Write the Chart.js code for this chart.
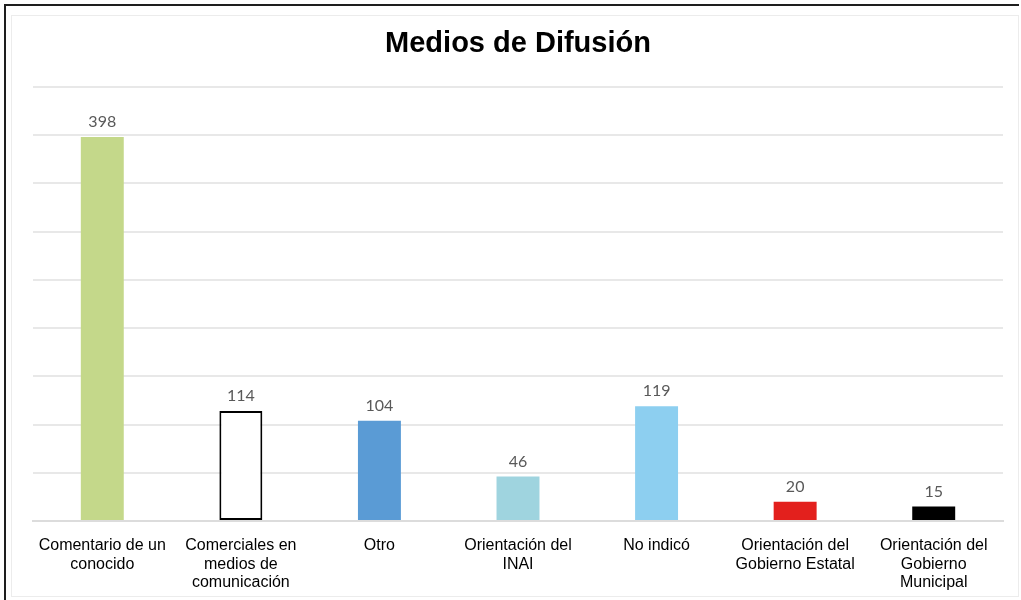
<!DOCTYPE html>
<html lang="es">
<head>
    <meta charset="UTF-8">
    <title>Medios de Difusión</title>
    <script src="https://cdn.jsdelivr.net/npm/chart.js"></script>
    <style>
        body {
            margin: 0;
            background: #fff;
            font-family: "Liberation Sans", Arial, sans-serif;
        }
        #wrap {
            position: relative;
            width: 1021px;
            height: 600px;
            overflow: hidden;
        }
        /* marco oscuro exterior */
        #frameDark {
            position: absolute;
            left: 4px;
            top: 4px;
            width: 1013px;
            height: 600px;
            border-top: 2px solid #1e1e1e;
            border-left: 2px solid #1e1e1e;
        }
        /* marco claro interior */
        #frameLight {
            position: absolute;
            left: 11px;
            top: 15px;
            width: 1006px;
            height: 580px;
            border: 1px solid #ececec;
        }
        #chartCanvas {
            position: absolute;
            left: 0;
            top: 0;
        }
    </style>
</head>
<body>
<div id="wrap">
    <div id="frameDark"></div>
    <div id="frameLight"></div>
    <canvas id="chartCanvas" width="1021" height="600"></canvas>
</div>

<script>
    // datos del gráfico
    const categorias = [
        ["Comentario de un", "conocido"],
        ["Comerciales en", "medios de", "comunicación"],
        ["Otro"],
        ["Orientación del", "INAI"],
        ["No indicó"],
        ["Orientación del", "Gobierno Estatal"],
        ["Orientación del", "Gobierno", "Municipal"]
    ];
    const valores = [398, 114, 104, 46, 119, 20, 15];
    const colores = ["#c4d88a", "#ffffff", "#5a9bd5", "#9fd4df", "#8dcff0", "#e3201d", "#000000"];
    const bordes = ["#c4d88a", "#000000", "#5a9bd5", "#9fd4df", "#8dcff0", "#e3201d", "#000000"];
    const anchoBorde = [0, 2, 0, 0, 0, 0, 0];
    const titulo = "Medios de Difusión";

    // etiquetas de valor encima de cada barra
    const etiquetasValor = {
        id: "etiquetasValor",
        afterDatasetsDraw(chart) {
            const ctx = chart.ctx;
            const meta = chart.getDatasetMeta(0);
            ctx.save();
            ctx.font = "16px Lato, 'DejaVu Sans', sans-serif";
            ctx.fillStyle = "#595959";
            ctx.textAlign = "center";
            ctx.textBaseline = "bottom";
            meta.data.forEach((bar, i) => {
                ctx.fillText(String(valores[i]), bar.x, bar.y - 7);
            });
            ctx.restore();
        }
    };

    const ctx = document.getElementById("chartCanvas").getContext("2d");
    new Chart(ctx, {
        type: "bar",
        data: {
            labels: categorias,
            datasets: [{
                data: valores,
                backgroundColor: colores,
                borderColor: bordes,
                borderWidth: anchoBorde,
                borderSkipped: false,
                categoryPercentage: 1,
                barPercentage: 0.31
            }]
        },
        options: {
            responsive: false,
            animation: false,
            layout: {
                padding: { left: 33, right: 18, top: 0, bottom: 0 }
            },
            plugins: {
                legend: { display: false },
                tooltip: { enabled: false },
                title: {
                    display: true,
                    text: titulo,
                    color: "#000",
                    font: { family: "'Liberation Sans', Arial, sans-serif", size: 29, weight: "bold", lineHeight: 1.2 },
                    padding: { top: 27, bottom: 25 }
                }
            },
            scales: {
                x: {
                    grid: { display: false },
                    border: { display: true, color: "#dcdcdc", width: 2 },
                    ticks: {
                        color: "#000",
                        maxRotation: 0,
                        autoSkip: false,
                        padding: 8,
                        font: { family: "'Liberation Sans', Arial, sans-serif", size: 16, lineHeight: 1.13 }
                    },
                    afterFit(scale) { scale.height = 79; }
                },
                y: {
                    min: 0,
                    max: 450,
                    ticks: { display: false, stepSize: 50 },
                    grid: { color: "#e8e8e8", lineWidth: 2, drawTicks: false },
                    border: { display: false },
                    afterFit(scale) { scale.width = 0; }
                }
            }
        },
        plugins: [etiquetasValor]
    });
</script>
</body>
</html>
